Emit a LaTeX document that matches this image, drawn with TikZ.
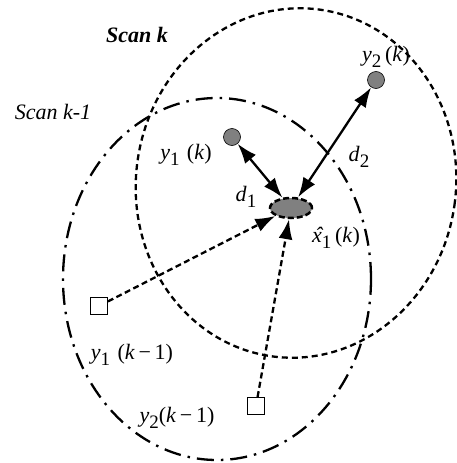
\documentclass[tikz,border=0pt]{standalone}
\usepackage{fontspec}
\setmainfont{Liberation Serif}
\usetikzlibrary{arrows.meta,shapes.geometric}
\newcommand{\sbs}[1]{\raisebox{-0.65ex}{\fontsize{19}{19}\selectfont #1}}
\newcommand{\xhat}{\makebox[0pt][l]{\hspace{0.14em}\textit{ˆ}}\textit{x}}
\begin{document}
\begin{tikzpicture}[x=1pt,y=-1pt,
  scank/.style={line width=2.3pt, dash pattern=on 6pt off 4pt},
  scankm/.style={line width=2.3pt, dash pattern=on 17pt off 7pt on 2.5pt off 7pt},
  meas/.style={circle, draw, fill=gray, minimum size=17pt, inner sep=0pt, line width=0.6pt},
  oldm/.style={rectangle, draw, fill=white, minimum size=17pt, inner sep=0pt, line width=0.8pt},
  est/.style={ellipse, draw, fill=gray, minimum width=42pt, minimum height=20pt, inner sep=0pt, line width=2.5pt, dash pattern=on 6pt off 3pt},
  sol/.style={line width=2.3pt, {Latex[length=20pt,width=14pt]}-{Latex[length=20pt,width=14pt]}},
  dsh/.style={line width=2.3pt, dash pattern=on 6pt off 3.5pt, -{Latex[length=20pt,width=14pt]}},
  lab/.style={font=\fontsize{22}{22}\selectfont, inner sep=0pt}
]
\useasboundingbox (0,0) rectangle (457,463);
% scan ellipses
\draw[scank, rotate around={-8:(296,183)}] (296,183) ellipse [x radius=160pt, y radius=175pt];
\draw[scankm] (217,279) ellipse [x radius=154pt, y radius=181pt];
% nodes
\node[meas] (y1k) at (232,137) {};
\node[meas] (y2k) at (376,80) {};
\node[oldm] (s1) at (99,306) {};
\node[oldm] (s2) at (256,406) {};
\node[est] (xh) at (291,208) {};
% connectors
\draw[sol] (y1k) -- (xh);
\draw[sol] (y2k) -- (xh);
\draw[dsh] (s1) -- (xh);
\draw[dsh] (s2) -- (xh);
% labels
\node[lab] (tk) at (137,35) {\textbf{\textit{Scan k}}};
\node[lab] (tkm) at (53,112) {\textit{Scan k-1}};
\node[lab] (ly2k) at (386,57) {\textit{y}\sbs{2}\,(\textit{k})};
\node[lab] (ly1k) at (186,155) {\textit{y}\sbs{1}\,\,(\textit{k})};
\node[lab] (ld2) at (359,157) {\textit{d}\sbs{2}};
\node[lab] (ld1) at (246,197) {\textit{d}\sbs{1}};
\node[lab] (lxh) at (336,238) {\xhat\sbs{1}\,(\textit{k})};
\node[lab] (ly1km) at (132,355) {\textit{y}\sbs{1}\,\,(\textit{k}\,−\,1)};
\node[lab] (ly2km) at (177,418) {\textit{y}\sbs{2}(\textit{k}\,−\,1)};
\end{tikzpicture}
\end{document}
